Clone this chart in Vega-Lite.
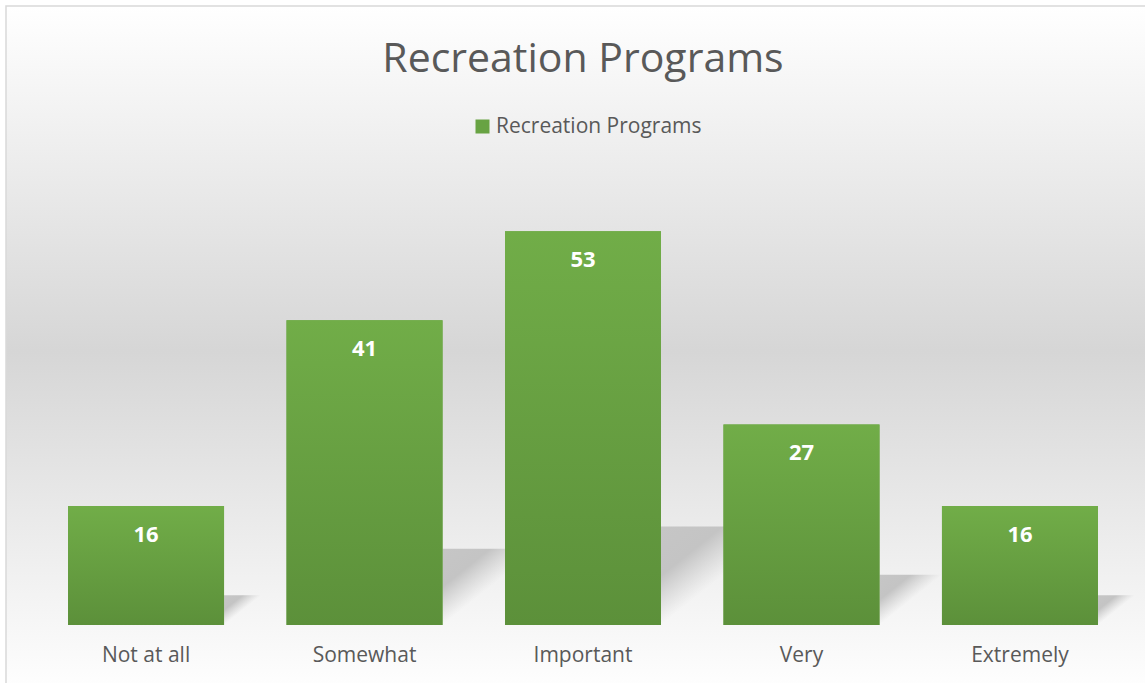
{
  "$schema": "https://vega.github.io/schema/vega-lite/v6.json",
  "width": 1154,
  "height": 690,
  "autosize": {"type": "none"},
  "padding": {"left": 6, "top": 6, "right": 0, "bottom": 0},
  "background": "#ffffff",
  "config": {
    "font": "Open Sans",
    "view": {
      "fill": {"gradient": "linear", "x1": 0, "y1": 0, "x2": 0, "y2": 1,
        "stops": [
          {"offset": 0, "color": "#ffffff"},
          {"offset": 0.5, "color": "#d6d6d6"},
          {"offset": 1, "color": "#ffffff"}
        ]},
      "stroke": "#d9d9d9",
      "strokeWidth": 1.5
    }
  },
  "title": {
    "text": "Recreation Programs",
    "font": "Open Sans",
    "fontSize": 41,
    "fontWeight": "normal",
    "color": "#595959",
    "anchor": "middle",
    "frame": "group",
    "baseline": "alphabetic",
    "offset": -107
  },
  "data": {
    "values": [
      {"category": "Not at all", "value": 16},
      {"category": "Somewhat", "value": 41},
      {"category": "Important", "value": 53},
      {"category": "Very", "value": 27},
      {"category": "Extremely", "value": 16}
    ]
  },
  "encoding": {
    "x": {
      "field": "category",
      "type": "nominal",
      "sort": null,
      "scale": {"paddingInner": 0.286, "paddingOuter": 0.284},
      "axis": {
        "title": null,
        "orient": "bottom",
        "offset": -71,
        "domain": false,
        "ticks": false,
        "tickSize": 0,
        "labelAngle": 0,
        "labelFont": "Open Sans",
        "labelFontSize": 21,
        "labelColor": "#595959",
        "labelBaseline": "alphabetic",
        "labelPadding": 36,
        "grid": false
      }
    }
  },
  "layer": [
    {
      "mark": {
        "type": "point",
        "shape": "M0,0L0,-1L1.25,-1Z",
        "filled": true,
        "opacity": 1,
        "strokeWidth": 0,
        "xOffset": 78,
        "fill": {"gradient": "linear", "x1": 0, "y1": 0, "x2": 1, "y2": 1,
          "stops": [
            {"offset": 0, "color": "#c6c6c6"},
            {"offset": 0.25, "color": "#c4c4c4"},
            {"offset": 0.5, "color": "rgba(205,205,205,0)"}
          ]}
      },
      "encoding": {
        "y": {"datum": 0, "type": "quantitative", "scale": {"domain": [-9.556, 83.31], "nice": false, "zero": false}, "axis": null},
        "size": {"field": "value", "type": "quantitative", "scale": {"type": "pow", "exponent": 2, "domain": [0, 100], "range": [0, 138384]}, "legend": null}
      }
    },
    {
      "mark": {"type": "bar"},
      "encoding": {
        "y": {"field": "value", "type": "quantitative", "scale": {"domain": [-9.556, 83.31], "nice": false, "zero": false}, "axis": null},
        "y2": {"datum": 0},
        "color": {
          "datum": "Recreation Programs",
          "scale": {"range": ["#68a343"]},
          "legend": {
            "title": null,
            "orient": "none",
            "legendX": 466,
            "legendY": 110,
            "symbolType": "square",
            "symbolSize": 196,
            "symbolStrokeWidth": 0,
            "labelFont": "Open Sans",
            "labelFontSize": 21,
            "labelColor": "#595959",
            "labelOffset": 3,
            "labelLimit": 0,
            "padding": 0
          }
        }
      }
    },
    {
      "mark": {
        "type": "bar",
        "fill": {"gradient": "linear", "x1": 0, "y1": 0, "x2": 0, "y2": 1,
          "stops": [
            {"offset": 0, "color": "#71ad48"},
            {"offset": 1, "color": "#5c903a"}
          ]}
      },
      "encoding": {
        "y": {"field": "value", "type": "quantitative"},
        "y2": {"datum": 0}
      }
    },
    {
      "mark": {"type": "text", "color": "#ffffff", "font": "Open Sans", "fontWeight": "bold", "fontSize": 22, "baseline": "middle", "dy": 29},
      "encoding": {
        "y": {"field": "value", "type": "quantitative"},
        "text": {"field": "value", "type": "quantitative"}
      }
    }
  ]
}
